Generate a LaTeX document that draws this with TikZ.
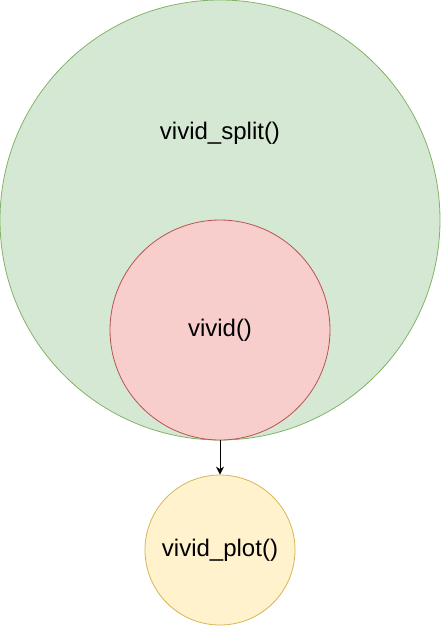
\documentclass[tikz,border=0pt]{standalone}
\usepackage{fontspec}
\setmainfont{Liberation Sans}
\usetikzlibrary{arrows.meta}
\definecolor{grfill}{HTML}{D5E8D4}
\definecolor{grline}{HTML}{82B366}
\definecolor{rdfill}{HTML}{F8CECC}
\definecolor{rdline}{HTML}{B85450}
\definecolor{ylfill}{HTML}{FFF2CC}
\definecolor{ylline}{HTML}{D6B656}
\tikzset{ball/.style={circle, draw, line width=0.6pt, inner sep=0pt, font=\fontsize{18}{22}\selectfont}}
\begin{document}
\begin{tikzpicture}[>={Stealth[length=6pt,width=6pt]}, x=0.75pt, y=0.75pt]
\useasboundingbox (0,0) rectangle (441,-626);
\node[ball, fill=grfill, draw=grline, minimum size=330pt](split) at (220,-220){};
\node[font=\fontsize{18}{22}\selectfont](splittext) at (220,-133){vivid\_split()};
\node[ball, fill=rdfill, draw=rdline, minimum size=165pt](vivid) at (220,-330){\raisebox{-3pt}{vivid()}};
\node[ball, fill=ylfill, draw=ylline, minimum size=112.5pt](plot) at (220,-550){\raisebox{-2pt}{vivid\_plot()}};
\draw[->, line width=0.75pt](vivid.south)--(plot.north);

\end{tikzpicture}
\end{document}
